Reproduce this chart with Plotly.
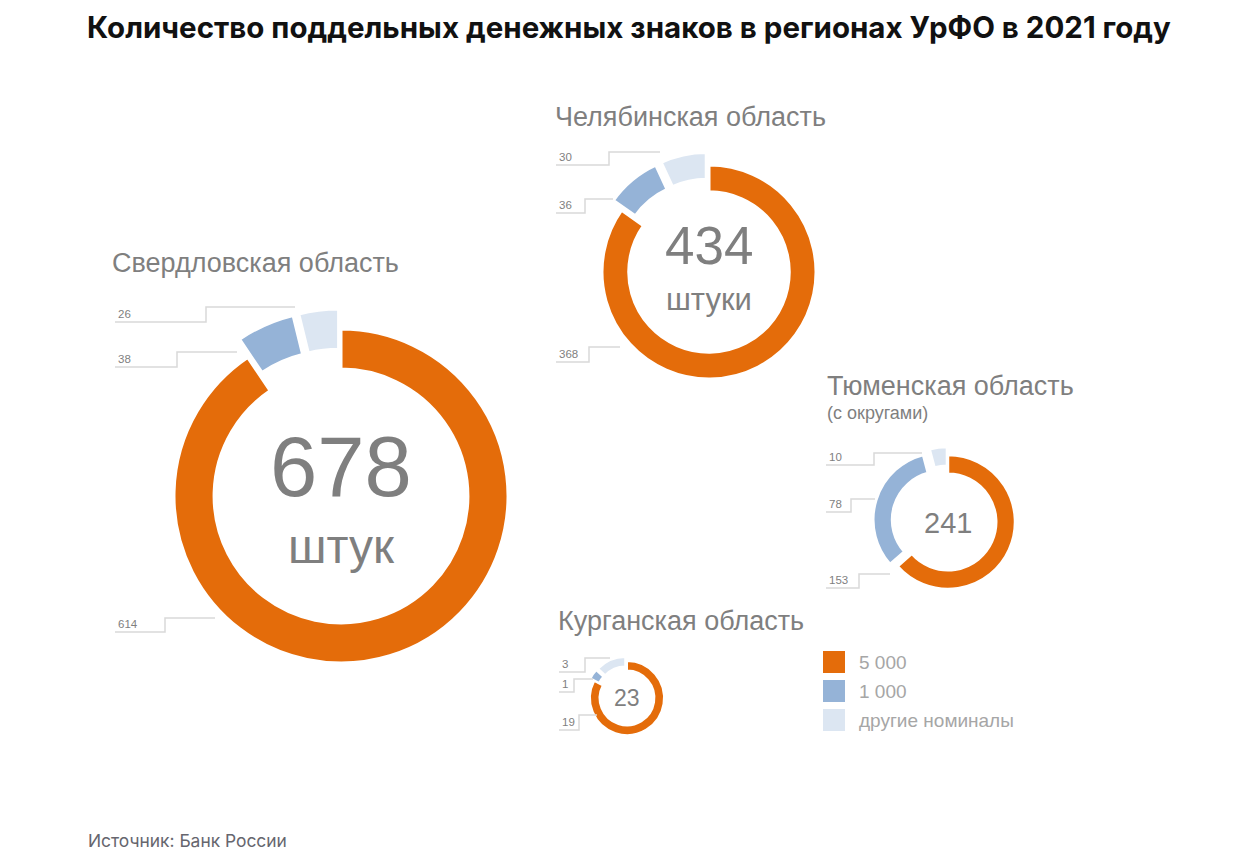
import plotly.graph_objects as go

W, H = 1253, 867
PAGE_MARGIN = 8  # default body margin of the html page

# data
regions = ["Свердловская область", "Челябинская область", "Тюменская область", "Курганская область"]
denominations = ["5 000", "1 000", "другие номиналы"]
count_5000 = [614, 368, 153, 19]
count_1000 = [38, 36, 78, 1]
count_other = [26, 30, 10, 3]
units = ["штук", "штуки", "", ""]

colors = ["#E46C0A", "#95B3D7", "#DCE6F2"]
grey = "#7f7f7f"

# layout of each donut: centre x, centre y, outer radius (px), hole, border
donuts = [
    dict(cx=341, cy=496, r=167, hole=0.76, line=3),
    dict(cx=709, cy=272, r=107, hole=0.75, line=3),
    dict(cx=948, cy=522, r=67, hole=0.72, line=2.5),
    dict(cx=627, cy=698, r=37, hole=0.74, line=2),
]
pull = 0.12

# total label style: font size of number, offset of number, font of unit, offset of unit
centre_text = [
    dict(size=85, dy=-29, usize=48, udy=50),
    dict(size=53, dy=-27, usize=31, udy=27),
    dict(size=29, dy=1, usize=0, udy=0),
    dict(size=23, dy=0, usize=0, udy=0),
]

# region titles: x, y
titles = [(110, 263), (553, 117), (825, 386), (556, 621)]

# leader lines per region, order: other, 1000, 5000
# (text x, low y, knee x, high y, end x)
leaders = [
    [(115, 322, 206, 307, 295), (115, 367, 177, 352, 237), (115, 632, 165, 618, 215)],
    [(556, 165, 609, 152, 660), (556, 213, 585, 199, 613), (556, 362, 589, 347, 620)],
    [(826, 465, 874, 453, 922), (826, 512, 851, 499, 875), (826, 588, 859, 574, 890)],
    [(559, 672, 585, 658, 610), (559, 692, 574, 679, 593), (559, 730, 579, 715, 597)],
]

FW, FH = W - 2 * PAGE_MARGIN, H - 2 * PAGE_MARGIN


def px(x):
    return (x - PAGE_MARGIN) / FW


def py(y):
    return 1 - (y - PAGE_MARGIN) / FH


fig = go.Figure()
shapes = []
annotations = []

for i, region in enumerate(regions):
    d = donuts[i]
    half = d["r"] * (1 + pull)
    vals = [count_5000[i], count_1000[i], count_other[i]]
    fig.add_trace(go.Pie(
        labels=denominations,
        values=vals,
        hole=d["hole"],
        sort=False,
        direction="clockwise",
        rotation=0,
        pull=[0, pull, pull],
        marker=dict(colors=colors, line=dict(color="white", width=d["line"])),
        textinfo="none",
        hoverinfo="label+value",
        showlegend=False,
        domain=dict(x=[px(d["cx"] - half), px(d["cx"] + half)],
                    y=[py(d["cy"] + half), py(d["cy"] - half)]),
    ))

    total = sum(vals)
    c = centre_text[i]
    annotations.append(dict(
        x=px(d["cx"]), y=py(d["cy"] + c["dy"]), xref="paper", yref="paper",
        text=str(total), showarrow=False, xanchor="center", yanchor="middle",
        font=dict(family="Liberation Sans, Arial", size=c["size"], color=grey)))
    if units[i]:
        annotations.append(dict(
            x=px(d["cx"]), y=py(d["cy"] + c["udy"]), xref="paper", yref="paper",
            text=units[i], showarrow=False, xanchor="center", yanchor="middle",
            font=dict(family="Liberation Sans, Arial", size=c["usize"], color=grey)))

    tx, ty = titles[i]
    annotations.append(dict(
        x=px(tx), y=py(ty), xref="paper", yref="paper", text=region,
        showarrow=False, xanchor="left", yanchor="middle",
        font=dict(family="Liberation Sans, Arial", size=27, color=grey)))

    for (x0, ylo, xk, yhi, xe), v in zip(leaders[i], [count_other[i], count_1000[i], count_5000[i]]):
        path = "M {} {} L {} {} L {} {} L {} {}".format(
            px(x0), py(ylo), px(xk), py(ylo), px(xk), py(yhi), px(xe), py(yhi))
        shapes.append(dict(type="path", path=path, xref="paper", yref="paper",
                           line=dict(color="#d9d9d9", width=1.5)))
        annotations.append(dict(
            x=px(x0 + 1), y=py(ylo - 8), xref="paper", yref="paper", text=str(v),
            showarrow=False, xanchor="left", yanchor="middle",
            font=dict(family="Liberation Sans, Arial", size=11.5, color="#7f7f7f")))

annotations.append(dict(
    x=px(825), y=py(413), xref="paper", yref="paper", text="(с округами)",
    showarrow=False, xanchor="left", yanchor="middle",
    font=dict(family="Liberation Sans, Arial", size=18, color=grey)))

# legend
leg_y = [662, 691, 720]
for col, name, ly in zip(colors, denominations, leg_y):
    shapes.append(dict(type="rect", xref="paper", yref="paper",
                       x0=px(823), x1=px(845), y0=py(ly + 11), y1=py(ly - 11),
                       fillcolor=col, line=dict(width=0)))
    annotations.append(dict(
        x=px(857), y=py(ly), xref="paper", yref="paper", text=name,
        showarrow=False, xanchor="left", yanchor="middle",
        font=dict(family="Liberation Sans, Arial", size=19, color="#a6a6a6")))

# title and source
annotations.append(dict(
    x=px(629), y=py(27), xref="paper", yref="paper",
    text="<b>Количество поддельных денежных знаков в регионах УрФО в 2021 году</b>",
    showarrow=False, xanchor="center", yanchor="middle",
    font=dict(family="Inter", size=29.5, color="#111111")))
annotations.append(dict(
    x=px(86), y=py(840), xref="paper", yref="paper", text="Источник: Банк России",
    showarrow=False, xanchor="left", yanchor="middle",
    font=dict(family="Inter", size=17.4, color="#66666e")))

fig.update_layout(
    width=FW, height=FH,
    margin=dict(l=0, r=0, t=0, b=0),
    paper_bgcolor="white",
    plot_bgcolor="white",
    shapes=shapes,
    annotations=annotations,
)

fig.write_html("out.html")
